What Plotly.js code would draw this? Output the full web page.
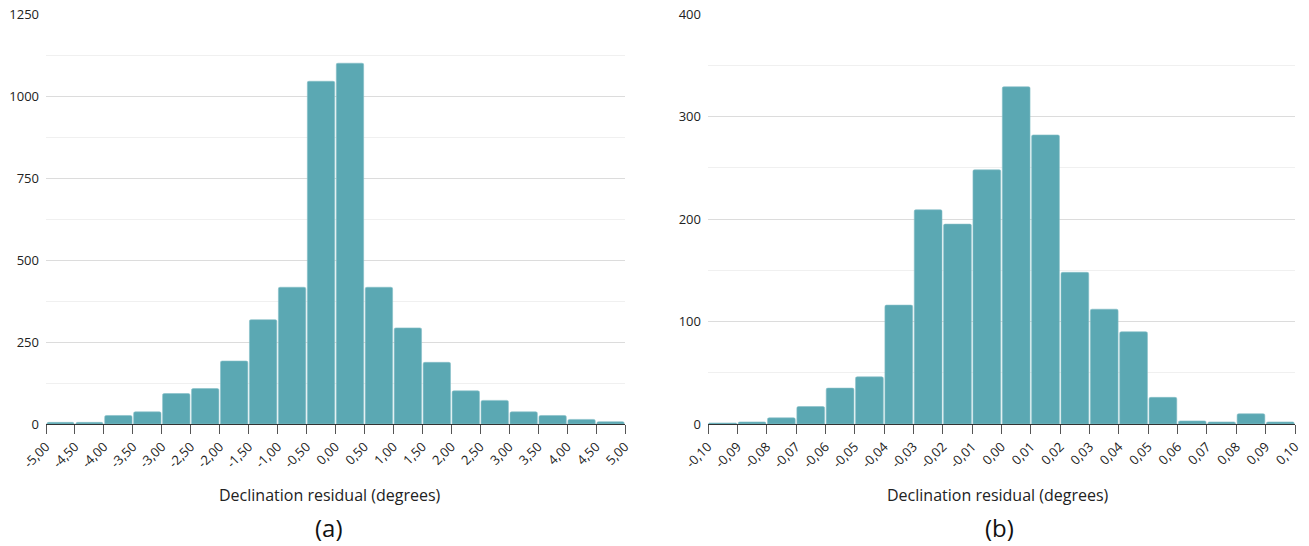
<!DOCTYPE html>
<html>
<head>
<meta charset="utf-8">
<script src="https://cdn.plot.ly/plotly-3.0.1.min.js"></script>
<style>html,body{margin:0;padding:0;background:#fff;}#chart{width:1309px;height:546px;}</style>
</head>
<body>
<div id="chart"></div>
<script>
// Panel (a): bin edges and counts
const binsA = [-5.0,-4.5,-4.0,-3.5,-3.0,-2.5,-2.0,-1.5,-1.0,-0.5,0.0,0.5,1.0,1.5,2.0,2.5,3.0,3.5,4.0,4.5,5.0];
const countsA = [5,5,26,37,93,108,192,318,417,1045,1100,417,293,188,101,72,37,26,14,7];
const tickTextA = ["-5,00","-4,50","-4,00","-3,50","-3,00","-2,50","-2,00","-1,50","-1,00","-0,50","0,00","0,50","1,00","1,50","2,00","2,50","3,00","3,50","4,00","4,50","5,00"];

// Panel (b): bin edges and counts
const binsB = [-0.10,-0.09,-0.08,-0.07,-0.06,-0.05,-0.04,-0.03,-0.02,-0.01,0.00,0.01,0.02,0.03,0.04,0.05,0.06,0.07,0.08,0.09,0.10];
const countsB = [1,2,6,17,35,46,116,209,195,248,329,282,148,112,90,26,3,2,10,2];
const tickTextB = ["-0,10","-0,09","-0,08","-0,07","-0,06","-0,05","-0,04","-0,03","-0,02","-0,01","0,00","0,01","0,02","0,03","0,04","0,05","0,06","0,07","0,08","0,09","0,10"];

const axisTitle = "Declination residual (degrees)";
const panelLabels = ["(a)", "(b)"];

const barColor = "#5ba8b3";
const FONT = "Open Sans, sans-serif";

function centers(edges){ const c=[]; for(let i=0;i<edges.length-1;i++) c.push((edges[i]+edges[i+1])/2); return c; }
function widths(edges){ const w=[]; for(let i=0;i<edges.length-1;i++) w.push(edges[i+1]-edges[i]); return w; }

const traces = [
  {type:'bar', x:centers(binsA), y:countsA, width:widths(binsA).map(v=>v*0.945), xaxis:'x', yaxis:'y',
   marker:{color:barColor, cornerradius:2, line:{width:0.6,color:'#86bfc8'}}, hoverinfo:'x+y', showlegend:false},
  {type:'bar', x:centers(binsB), y:countsB, width:widths(binsB).map(v=>v*0.945), xaxis:'x2', yaxis:'y2',
   marker:{color:barColor, cornerradius:2, line:{width:0.6,color:'#86bfc8'}}, hoverinfo:'x+y', showlegend:false}
];

const xCommon = {
  showgrid:false, zeroline:false, showline:true, linecolor:'#333', linewidth:1,
  ticks:'outside', ticklen:9, tickcolor:'#555', tickwidth:1,
  tickangle:-45, tickfont:{family:FONT, size:13, color:'#222'},
  automargin:false, fixedrange:true
};
const yCommon = {
  showgrid:true, gridcolor:'#dcdcdc', gridwidth:1, zeroline:false, showline:false,
  ticks:'', tickfont:{family:FONT, size:13, color:'#222'}, ticklabelstandoff:6,
  automargin:false, fixedrange:true
};

const layout = {
  width:1309, height:546,
  margin:{l:0, r:0, t:0, b:0},
  paper_bgcolor:'#fff', plot_bgcolor:'#fff',
  bargap:0,
  font:{family:FONT, color:'#222'},
  xaxis: Object.assign({}, xCommon, {domain:[46/1309, 625/1309], anchor:'y',
    range:[binsA[0], binsA[binsA.length-1]], tickvals:binsA, ticktext:tickTextA}),
  yaxis: Object.assign({}, yCommon, {domain:[1-424/546, 1-14/546], anchor:'x',
    range:[0,1250], dtick:250, tick0:0,
    minor:{dtick:125, tick0:0, showgrid:true, gridcolor:'#f0f0f0', gridwidth:1}}),
  xaxis2: Object.assign({}, xCommon, {domain:[708/1309, 1295/1309], anchor:'y2',
    range:[binsB[0], binsB[binsB.length-1]], tickvals:binsB, ticktext:tickTextB}),
  yaxis2: Object.assign({}, yCommon, {domain:[1-424/546, 1-14/546], anchor:'x2',
    range:[0,400], dtick:100, tick0:0,
    minor:{dtick:50, tick0:0, showgrid:true, gridcolor:'#f0f0f0', gridwidth:1}}),
  annotations:[
    {text:axisTitle, xref:'paper', yref:'paper', x:330/1309, y:1-495/546, xanchor:'center', yanchor:'middle',
     showarrow:false, font:{family:FONT, size:16, color:'#222'}},
    {text:axisTitle, xref:'paper', yref:'paper', x:998/1309, y:1-495/546, xanchor:'center', yanchor:'middle',
     showarrow:false, font:{family:FONT, size:16, color:'#222'}},
    {text:panelLabels[0], xref:'paper', yref:'paper', x:329/1309, y:1-527/546, xanchor:'center', yanchor:'middle',
     showarrow:false, font:{family:FONT, size:24, color:'#111'}},
    {text:panelLabels[1], xref:'paper', yref:'paper', x:999/1309, y:1-527/546, xanchor:'center', yanchor:'middle',
     showarrow:false, font:{family:FONT, size:24, color:'#111'}}
  ]
};

Plotly.newPlot('chart', traces, layout, {displayModeBar:false, staticPlot:true});
</script>
</body>
</html>
